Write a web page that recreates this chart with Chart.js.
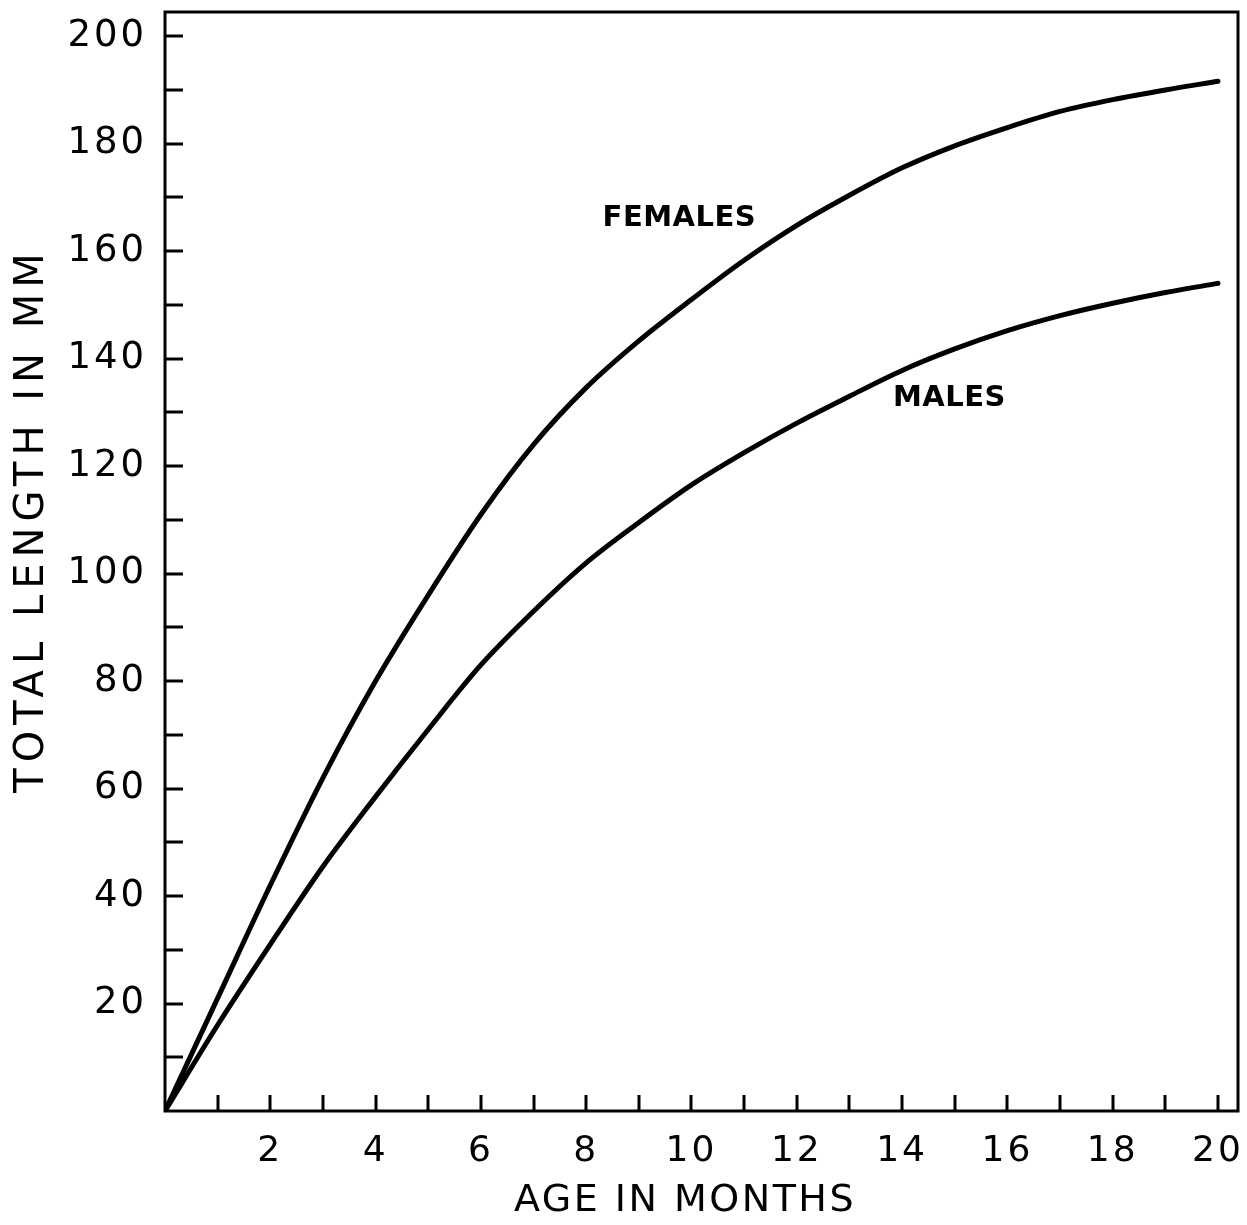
<!DOCTYPE html>
<html lang="en">
<head>
  <meta charset="UTF-8">
  <title>Total length vs age</title>
  <script src="https://cdn.jsdelivr.net/npm/chart.js"></script>
  <style>
    body {
      margin: 0;
      background: #fff;
    }
  </style>
</head>
<body>
  <canvas id="growthChart" width="1247" height="1225"></canvas>

  <script>
    // data (age in months, total length in mm)
    const months = [0, 1, 2, 3, 4, 5, 6, 7, 8, 9, 10, 11, 12, 13, 14, 15, 16, 17, 18, 19, 20];
    const females = [0, 21, 42, 62, 80, 96, 111, 124, 134.6, 143.3, 151, 158.3, 164.8, 170.4, 175.5, 179.6, 183, 186, 188.2, 190, 191.6];
    const males = [0, 16, 31, 45.5, 58.5, 71, 83, 93, 102, 109.5, 116.5, 122.5, 128, 133, 137.8, 141.8, 145.2, 148, 150.3, 152.3, 154];

    const xTickLabels = [2, 4, 6, 8, 10, 12, 14, 16, 18, 20];
    const yTickLabels = [20, 40, 60, 80, 100, 120, 140, 160, 180, 200];

    // curve labels: [text, month, mm]
    const curveLabels = [
      ['FEMALES', 9.77, 166],
      ['MALES', 14.9, 132.5]
    ];

    const fontFamily = '"DejaVu Sans", sans-serif';

    const noPadding = s => {
      s.paddingTop = 0;
      s.paddingBottom = 0;
      s.paddingLeft = 0;
      s.paddingRight = 0;
    };

    // frame, inward tick marks, axis titles and curve labels
    const decorations = {
      id: 'decorations',
      beforeDraw(chart) {
        chart.ctx.letterSpacing = '3px';
      },
      afterDraw(chart) {
        const ctx = chart.ctx;
        const area = chart.chartArea;
        const x = chart.scales.x;
        const y = chart.scales.y;
        ctx.save();
        ctx.strokeStyle = '#000';
        ctx.lineWidth = 3;
        ctx.strokeRect(area.left, area.top, area.right - area.left, area.bottom - area.top);

        ctx.beginPath();
        x.ticks.forEach(t => {
          if (t.value <= 0 || t.value > 20) return;
          const px = Math.round(x.getPixelForValue(t.value));
          ctx.moveTo(px, area.bottom);
          ctx.lineTo(px, area.bottom - 16);
        });
        y.ticks.forEach(t => {
          if (t.value <= 0 || t.value > 200) return;
          const py = Math.round(y.getPixelForValue(t.value));
          ctx.moveTo(area.left, py);
          ctx.lineTo(area.left + 18, py);
        });
        ctx.stroke();

        ctx.fillStyle = '#000';
        ctx.textAlign = 'center';
        ctx.textBaseline = 'middle';

        ctx.font = '38px ' + fontFamily;
        ctx.letterSpacing = '2.5px';
        ctx.fillText('AGE IN MONTHS', 685, 1201);

        ctx.save();
        ctx.translate(33, 520);
        ctx.rotate(-Math.PI / 2);
        ctx.font = '40px ' + fontFamily;
        ctx.letterSpacing = '6px';
        ctx.fillText('TOTAL LENGTH IN MM', 0, 0);
        ctx.restore();

        ctx.font = 'bold 29px ' + fontFamily;
        ctx.letterSpacing = '0.5px';
        curveLabels.forEach(([text, mx, my]) => {
          ctx.fillText(text, x.getPixelForValue(mx), y.getPixelForValue(my));
        });
        ctx.restore();
      }
    };

    const lineStyle = {
      borderColor: '#000',
      borderWidth: 5,
      pointRadius: 0,
      fill: false,
      cubicInterpolationMode: 'monotone',
      borderCapStyle: 'round'
    };

    new Chart(document.getElementById('growthChart'), {
      type: 'line',
      data: {
        datasets: [
          Object.assign({ label: 'Females', data: months.map((m, i) => ({ x: m, y: females[i] })) }, lineStyle),
          Object.assign({ label: 'Males', data: months.map((m, i) => ({ x: m, y: males[i] })) }, lineStyle)
        ]
      },
      options: {
        responsive: false,
        animation: false,
        layout: { padding: { top: 12, right: 9, left: 0, bottom: 0 } },
        plugins: {
          legend: { display: false },
          tooltip: { enabled: false }
        },
        scales: {
          x: {
            type: 'linear',
            min: 0,
            max: 20.38,
            grid: { display: false },
            border: { display: false },
            ticks: {
              stepSize: 1,
              includeBounds: false,
              autoSkip: false,
              maxRotation: 0,
              padding: 11,
              color: '#000',
              font: { family: fontFamily, size: 36 },
              callback: v => xTickLabels.includes(v) ? String(v) : ''
            },
            afterFit: s => { s.height = 114; noPadding(s); }
          },
          y: {
            min: 0,
            max: 204.5,
            grid: { display: false },
            border: { display: false },
            ticks: {
              stepSize: 10,
              includeBounds: false,
              autoSkip: false,
              padding: 10,
              color: '#000',
              font: { family: fontFamily, size: 37 },
              callback: v => yTickLabels.includes(v) ? String(v) : ''
            },
            afterFit: s => { s.width = 165; noPadding(s); }
          }
        }
      },
      plugins: [decorations]
    });
  </script>
</body>
</html>
